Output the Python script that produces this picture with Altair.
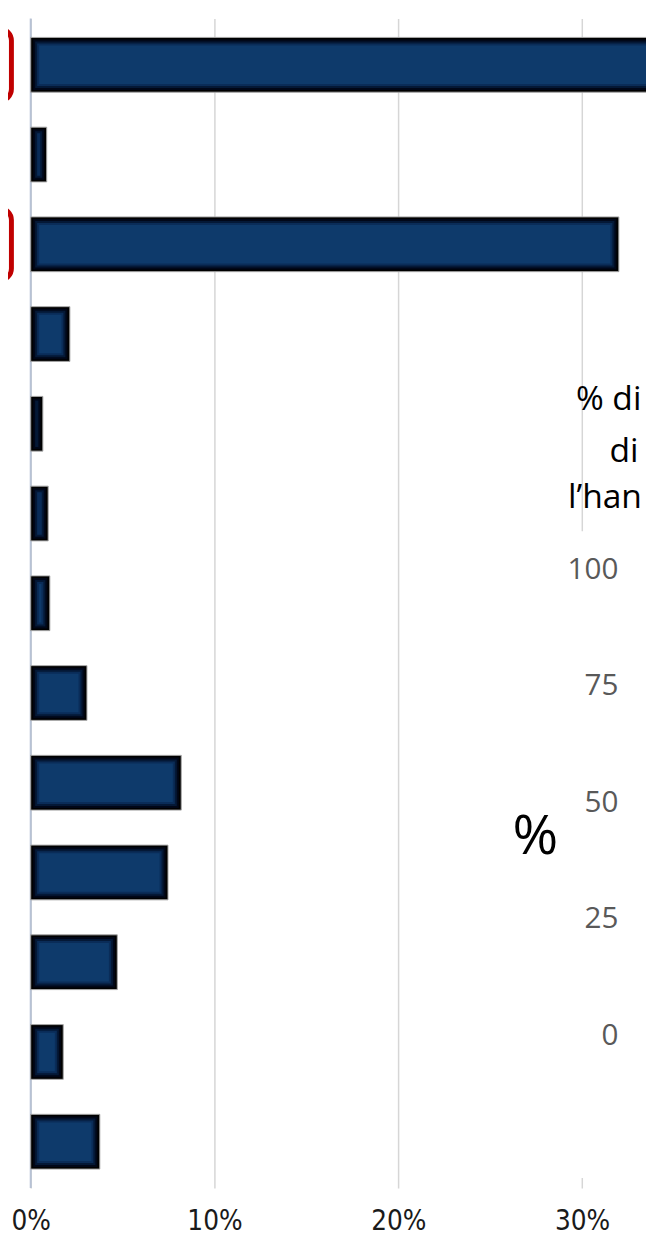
import altair as alt
import pandas as pd

# ---- data ----
categories = ["c01", "c02", "c03", "c04", "c05", "c06", "c07",
              "c08", "c09", "c10", "c11", "c12", "c13"]
values = [35.0, 0.87, 32.0, 2.13, 0.66, 0.95, 1.04, 3.06, 8.19, 7.47, 4.71, 1.77, 3.76]
highlighted = [True, False, True, False, False, False, False,
               False, False, False, False, False, False]
x_ticks = [0, 10, 20, 30]

# fragment of an overlapping chart (right side)
overlay_title_lines = ["% di", "di", "l\u2019han"]
overlay_ticks = [100, 75, 50, 25, 0]
overlay_unit = "%"

df = pd.DataFrame({"cat": categories, "val": values, "hl": highlighted})
df_ticks = pd.DataFrame({"v": overlay_ticks, "t": [str(t) for t in overlay_ticks]})
one = pd.DataFrame({"a": [0]})

W, H = 646, 1184
x_scale = alt.Scale(domain=[-1.236, 33.477], nice=False, zero=False)
y_enc = alt.Y("cat:N", sort=categories,
              scale=alt.Scale(domain=categories, paddingInner=0.39, paddingOuter=0.21),
              axis=None)

x_axis = alt.Axis(values=x_ticks, labelExpr="datum.value + '%'", title=None,
                  grid=True, gridColor="#d6d6d6", gridWidth=1.5,
                  domain=False, ticks=False, tickSize=0,
                  labelFont="Liberation Sans Narrow, DejaVu Sans Condensed, sans-serif",
                  labelFontSize=28, labelColor="#1a1a1a", labelPadding=20)

base = alt.Chart(df)

zero_rule = alt.Chart(one).mark_rule(color="#b7c2d5", strokeWidth=2).encode(
    x=alt.datum(0, scale=x_scale)
)

outer = base.mark_bar(color="#000000", stroke="#a8a8a8", strokeWidth=1, clip=True).encode(
    x=alt.X("val:Q", scale=x_scale, axis=x_axis),
    x2=alt.datum(0),
    y=y_enc,
)

# inner glow of the bars: progressively lighter, inset rectangles
glow = [("#010718", 51, 2.5, 0.4), ("#041836", 47, 4.5, 0.6),
        ("#0a2c58", 43, 6.5, 0.8), ("#0e3a6b", 39, 8.5, 1.0)]
glow_layers = []
for col, sz, inset, vmin in glow:
    glow_layers.append(
        base.mark_bar(color=col, size=sz, xOffset=-inset, x2Offset=inset, clip=True).encode(
            x=alt.X("val:Q", scale=x_scale),
            x2=alt.datum(0),
            y=y_enc,
        ).transform_filter(alt.datum.val > vmin)
    )

red_boxes = base.transform_filter(alt.datum.hl).mark_bar(
    size=73, cornerRadius=12, fillOpacity=0, stroke="#c00000", strokeWidth=5, clip=True
).encode(
    x=alt.datum(-5),
    x2=alt.datum(-1.05),
    y=y_enc,
)

bars = alt.layer(zero_rule, outer, *glow_layers, red_boxes)

white_box = alt.Chart(one).mark_rect(color="white").encode(
    x=alt.value(540), x2=alt.value(646), y=alt.value(519), y2=alt.value(1174)
)

title_pos = [(575, 396), (609, 449), (567, 496)]
title_layers = []
for line, (px, py) in zip(overlay_title_lines, title_pos):
    title_layers.append(
        alt.Chart(one).mark_text(align="left", baseline="alphabetic", font="Open Sans",
                                 fontSize=34, color="#000000").encode(
            x=alt.value(px), y=alt.value(py), text=alt.value(line)
        )
    )

overlay_tick_text = alt.Chart(df_ticks).mark_text(
    align="right", baseline="middle", font="Open Sans", fontSize=30, color="#595959"
).encode(
    x=alt.value(618),
    y=alt.Y("v:Q", scale=alt.Scale(domain=[0, 100], range=[1030, 558]), axis=None),
    text="t:N",
)

unit_text = alt.Chart(one).mark_text(
    align="center", baseline="middle", font="Open Sans", fontSize=56, color="#000000"
).encode(x=alt.value(534), y=alt.value(829), text=alt.value(overlay_unit))

overlay = alt.layer(white_box, *title_layers, overlay_tick_text, unit_text)

chart = alt.layer(bars, overlay).resolve_scale(y="independent").properties(
    width=W, height=H,
    autosize=alt.AutoSizeParams(type="none"),
    padding={"left": 0, "top": 3, "right": 0, "bottom": 45},
    background="white",
).configure_view(strokeWidth=0)

chart.save("out.html", embed_options={"renderer": "svg", "actions": False})
